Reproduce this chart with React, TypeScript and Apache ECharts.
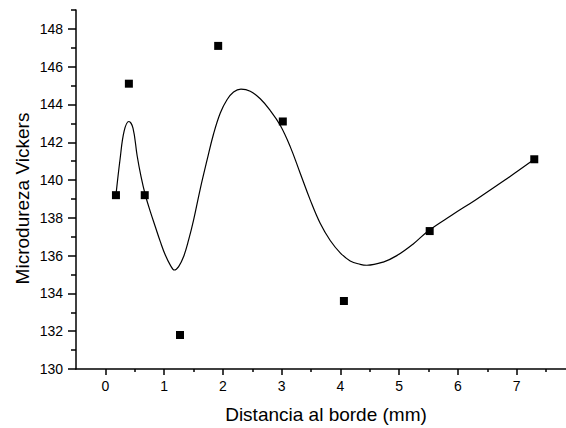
import React, { useEffect, useRef } from "react";
import * as echarts from "echarts";

const pointX = [0.18, 0.4, 0.67, 1.27, 1.92, 3.02, 4.06, 5.52, 7.3];
const pointY = [139.2, 145.1, 139.2, 131.8, 147.1, 143.1, 133.6, 137.3, 141.1];

const curveX = [0.18, 0.25, 0.32, 0.4, 0.47, 0.54, 0.607, 0.68, 0.765, 0.85, 0.935, 1.02, 1.105, 1.173, 1.247, 1.332, 1.417, 1.502, 1.616, 1.73, 1.842, 1.956, 2.07, 2.182, 2.308, 2.466, 2.636, 2.806, 2.976, 3.146, 3.316, 3.486, 3.656, 3.827, 3.997, 4.167, 4.337, 4.45, 4.73, 4.96, 5.24, 5.5, 5.9, 6.3, 6.8, 7.3];
const curveY = [139.2, 141.1, 142.6, 143.1, 142.75, 141.3, 140.18, 139.21, 138.33, 137.53, 136.74, 136.03, 135.5, 135.24, 135.42, 135.95, 136.83, 137.89, 139.55, 141.05, 142.45, 143.55, 144.25, 144.66, 144.81, 144.7, 144.3, 143.68, 142.9, 141.77, 140.36, 138.95, 137.71, 136.8, 136.15, 135.72, 135.54, 135.49, 135.66, 136.0, 136.62, 137.32, 138.15, 138.95, 140.0, 141.1];

const xMajorTicks = [0, 1, 2, 3, 4, 5, 6, 7];
const xMinorTicks = [0.5, 1.5, 2.5, 3.5, 4.5, 5.5, 6.5, 7.5];
const yMajorTicks = [130, 132, 134, 136, 138, 140, 142, 144, 146, 148];
const yMinorTicks = [131, 133, 135, 137, 139, 141, 143, 145, 147, 149];

const xTitle = "Distancia al borde (mm)";
const yTitle = "Microdureza Vickers";

const FONT = "'Liberation Sans', Arial, sans-serif";

export default function App() {
  const ref = useRef<HTMLDivElement>(null);
  useEffect(() => {
    if (!ref.current) return;
    const chart = echarts.init(ref.current, undefined, { renderer: "svg" });
    const xMin = -0.5, xMax = 7.84, yMin = 130, yMax = 149;
    const axisLineStyle = { color: "#000", width: 1.5 };
    const tickStyle = { color: "#000", width: 1.5 };
    chart.setOption({
      animation: false,
      backgroundColor: "#fff",
      grid: { left: 76, top: 10, width: 490, height: 359, containLabel: false },
      xAxis: [
        {
          type: "value", min: xMin, max: xMax, position: "bottom",
          axisLine: { show: true, onZero: false, lineStyle: axisLineStyle },
          axisTick: { show: true, length: 6, lineStyle: tickStyle, customValues: xMajorTicks },
          axisLabel: { show: true, margin: 10, color: "#000", fontSize: 14, fontFamily: FONT, customValues: xMajorTicks },
          splitLine: { show: false },
        },
        {
          type: "value", min: xMin, max: xMax, position: "bottom",
          axisLine: { show: false, onZero: false },
          axisTick: { show: true, length: 3, lineStyle: tickStyle, customValues: xMinorTicks },
          axisLabel: { show: false },
          splitLine: { show: false },
        },
      ],
      yAxis: [
        {
          type: "value", min: yMin, max: yMax, position: "left",
          axisLine: { show: true, onZero: false, lineStyle: axisLineStyle },
          axisTick: { show: true, length: 8, lineStyle: tickStyle, customValues: yMajorTicks },
          axisLabel: { show: true, margin: 13, color: "#000", fontSize: 14, fontFamily: FONT, customValues: yMajorTicks },
          splitLine: { show: false },
        },
        {
          type: "value", min: yMin, max: yMax, position: "left",
          axisLine: { show: false, onZero: false },
          axisTick: { show: true, length: 5, lineStyle: tickStyle, customValues: yMinorTicks },
          axisLabel: { show: false },
          splitLine: { show: false },
        },
      ],
      graphic: [
        {
          type: "text", x: 326, y: 414.5,
          style: { text: xTitle, fill: "#000", fontSize: 19, fontFamily: FONT, align: "center", verticalAlign: "middle" },
        },
        {
          type: "text", x: 22, y: 198.5, rotation: Math.PI / 2,
          style: { text: yTitle, fill: "#000", fontSize: 19, fontFamily: FONT, align: "center", verticalAlign: "middle" },
        },
      ],
      series: [
        {
          type: "line", xAxisIndex: 0, yAxisIndex: 0,
          data: curveX.map((x, i) => [x, curveY[i]]),
          smooth: 0.4, showSymbol: false, symbol: "none",
          lineStyle: { color: "#000", width: 1.2 },
          z: 2,
        },
        {
          type: "scatter", xAxisIndex: 0, yAxisIndex: 0,
          data: pointX.map((x, i) => [x, pointY[i]]),
          symbol: "rect", symbolSize: 8,
          itemStyle: { color: "#000", opacity: 1 },
          z: 3,
        },
      ],
    });
    return () => chart.dispose();
  }, []);
  return <div ref={ref} style={{ width: 566, height: 428, position: "absolute", left: 0, top: 0 }} />;
}
